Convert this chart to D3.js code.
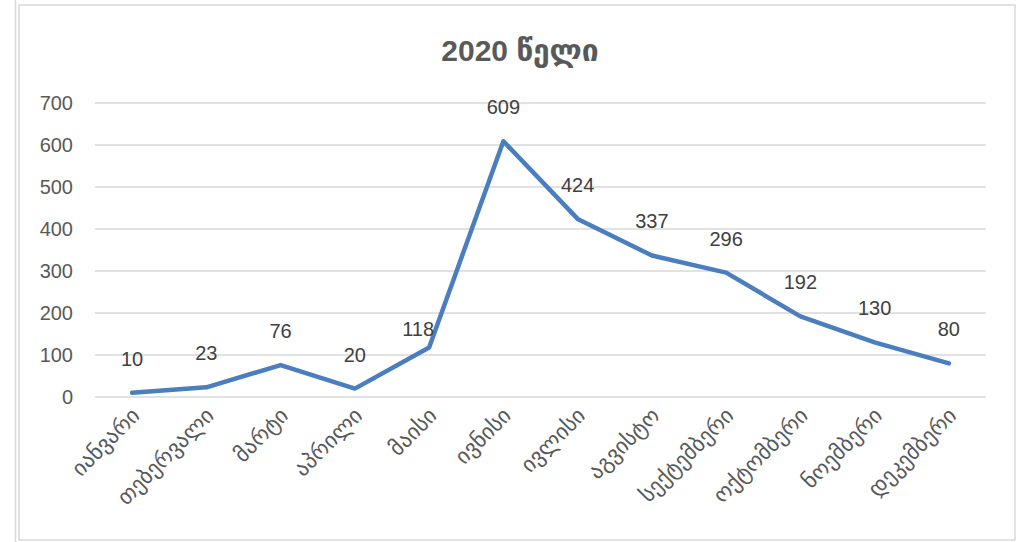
<!DOCTYPE html>
<html>
<head>
<meta charset="utf-8">
<script src="https://cdn.jsdelivr.net/npm/d3@7"></script>
<style>
  body { margin: 0; background: #fff; }
  svg { display: block; font-family: "Liberation Sans", "DejaVu Sans", sans-serif; }
</style>
</head>
<body>
<div class="chart"></div>
<script>
// chart data
var months = ['იანვარი', 'თებერვალი', 'მარტი', 'აპრილი', 'მაისი', 'ივნისი',
              'ივლისი', 'აგვისტო', 'სექტემბერი', 'ოქტომბერი', 'ნოემბერი', 'დეკემბერი'];
var cases = [10, 23, 76, 20, 118, 609, 424, 337, 296, 192, 130, 80];
var yTicks = [0, 100, 200, 300, 400, 500, 600, 700];
var title = '2020 წელი';

var w = 1018
  , h = 542
  , plotLeft = 95
  , plotRight = 986
  , plotTop = 103
  , plotBottom = 397;

var svg = d3.select('.chart')
            .append('svg')
            .attr('width', w)
            .attr('height', h);

// frame lines
svg.append('line').attr('x1', 15.5).attr('x2', 15.5).attr('y1', 0).attr('y2', h)
    .attr('stroke', '#d9d9d9').attr('stroke-width', 1.5);
svg.append('rect')
    .attr('x', 19).attr('y', 5)
    .attr('width', 996).attr('height', 535)
    .attr('fill', 'none')
    .attr('stroke', '#d9d9d9')
    .attr('stroke-width', 1.5);

var x = d3.scaleBand().domain(months).range([plotLeft, plotRight]);
var y = d3.scaleLinear().domain([0, 700]).range([plotBottom, plotTop]);

// gridlines
svg.append('g')
    .selectAll('line')
    .data(yTicks)
    .enter()
    .append('line')
    .attr('x1', plotLeft)
    .attr('x2', plotRight)
    .attr('y1', function (d) { return y(d); })
    .attr('y2', function (d) { return y(d); })
    .attr('stroke', '#d9d9d9')
    .attr('stroke-width', 1.5);

// y axis labels
var yAxis = d3.axisLeft(y).tickValues(yTicks).tickSize(0).tickPadding(22);
svg.append('g')
    .attr('transform', 'translate(' + plotLeft + ',0)')
    .call(yAxis)
    .call(function (g) { g.select('.domain').remove(); })
    .selectAll('text')
    .attr('font-size', 20)
    .attr('font-family', '"Liberation Sans", sans-serif')
    .attr('fill', '#595959');

// x axis labels
var xAxis = d3.axisBottom(x).tickSize(0).tickPadding(0);
svg.append('g')
    .attr('transform', 'translate(0,' + plotBottom + ')')
    .call(xAxis)
    .call(function (g) { g.select('.domain').remove(); })
    .selectAll('text')
    .attr('font-size', 22)
    .attr('font-family', '"DejaVu Sans", sans-serif')
    .attr('fill', '#595959')
    .attr('text-anchor', 'end')
    .attr('dy', 0)
    .attr('transform', 'translate(9,20) rotate(-45)');

// line
var cx = function (i) { return x(months[i]) + x.bandwidth() / 2; };
var line = d3.line()
    .x(function (d, i) { return cx(i); })
    .y(function (d) { return y(d); });

svg.append('path')
    .datum(cases)
    .attr('d', line)
    .attr('fill', 'none')
    .attr('stroke', '#4a7ebf')
    .attr('stroke-width', 4.5)
    .attr('stroke-linejoin', 'round')
    .attr('stroke-linecap', 'round');

// data labels (nudge left where the line climbs steeply right after the point)
var isSteep = function (d, i) {
  return i < cases.length - 1 && cases[i + 1] - d > 300;
};

svg.append('g')
    .selectAll('text')
    .data(cases)
    .enter()
    .append('text')
    .attr('x', function (d, i) { return cx(i) - (isSteep(d, i) ? 11 : 0); })
    .attr('y', function (d, i) { return y(d) - (isSteep(d, i) ? 11 : 27); })
    .attr('text-anchor', 'middle')
    .attr('font-size', 20)
    .attr('fill', '#404040')
    .text(function (d) { return d; });

// title
svg.append('text')
    .attr('x', 520)
    .attr('y', 61)
    .attr('text-anchor', 'middle')
    .attr('font-size', 30)
    .attr('font-weight', 'bold')
    .attr('font-family', '"Liberation Sans", "DejaVu Sans", sans-serif')
    .attr('fill', '#595959')
    .text(title);
</script>
</body>
</html>
